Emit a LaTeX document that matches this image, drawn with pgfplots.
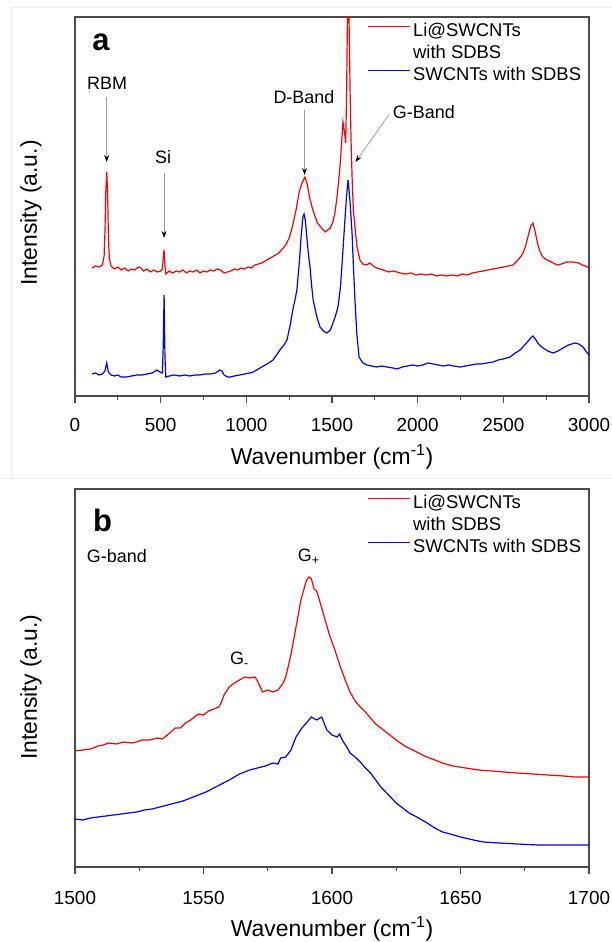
\documentclass[border=0pt]{standalone}
\usepackage{fontspec}
\setmainfont{Liberation Sans}
\usepackage{pgfplots}
\pgfplotsset{compat=1.18}
\usetikzlibrary{arrows.meta}

\tikzset{
  annot/.style={font=\fontsize{18}{21}\selectfont},
  arr/.style={gray!75, line width=0.8bp, -{Stealth[length=7bp,width=5bp,color=black]}},
}
\pgfplotsset{
  spec/.style={
    scale only axis, width=514bp,
    ymin=0,
    axis line style={black!70, line width=1.5bp},
    ytick=\empty,
    xtick pos=left,
    tick align=outside,
    major tick length=7bp, minor tick length=4bp,
    every tick/.style={black!70, line width=1.1bp},
    minor x tick num=1,
    /pgf/number format/assume math mode=true,
    /pgf/number format/1000 sep={},
    label style={font=\fontsize{23}{27}\selectfont},
    xlabel={Wavenumber (cm\textsuperscript{-1})},
    ylabel={Intensity (a.u.)},
    legend style={anchor=north west, draw=none, fill=none, inner sep=0pt, outer sep=0pt,
      row sep=0pt, column sep=3bp, font=\fontsize{18.5}{22}\selectfont,
      nodes={inner sep=0pt, text height=15bp, text depth=7.2bp}},
    legend cell align=left,
    legend image code/.code={\draw[#1] (0bp,6.5bp) -- (42bp,6.5bp);},
    every axis plot/.append style={line width=1.2bp},
  },
}

\begin{document}
\begin{tikzpicture}
\path[use as bounding box] (0,0) rectangle (612bp,942bp);
\draw[gray!15, line width=1bp] (11bp,463bp) -- (11bp,934bp) -- (612bp,934bp);
\draw[gray!15, line width=1bp] (0bp,463bp) -- (612bp,463bp);

% ---------------- panel a ----------------
\begin{axis}[spec, at={(75bp,546bp)}, anchor=south west, height=379bp,
  xmin=0, xmax=3000, ymax=379,
  xtick={0,500,1000,1500,2000,2500,3000},
  xticklabel style={font=\fontsize{19}{22}\selectfont, anchor=base, yshift=-28.5bp},
  xlabel style={at={(axis description cs:0.5,-0.182)}, anchor=base},
  ylabel style={at={(axis description cs:-0.0856,0.483)}, anchor=center},
  legend style={at={(axis description cs:0.568,0.988)}},
]
\addplot[red] coordinates {
(100,128)(120,130)(140,129)(160,131)(170,140)(175,165)(180,205)(185,224)(190,205)(195,160)
(200,138)(210,130)(230,127)(250,129)(270,126)(290,128)(310,125)(330,127)(350,126)(370,129)
(385,128)(400,125)(420,127)(440,124)(460,126)(480,124)(500,125)(510,127)(515,138)(520,146)
(525,130)(530,122)(550,125)(570,123)(590,125)(610,124)(630,126)(650,123)(670,125)(690,124)
(710,126)(730,123)(750,125)(770,124)(790,126)(810,125)(830,127)(850,126)(870,123)(890,124)
(910,125)(930,127)(950,126)(970,128)(990,127)(1010,129)(1030,128)(1050,131)(1070,132)(1090,133)
(1110,135)(1130,137)(1150,139)(1170,141)(1190,143)(1210,147)(1230,151)(1250,158)(1270,170)(1290,186)
(1310,205)(1325,213)(1342,219)(1355,212)(1370,198)(1385,188)(1400,180)(1415,173)(1430,170)(1445,167)
(1460,164)(1475,166)(1490,168)(1505,174)(1517,183)(1530,200)(1545,226)(1555,250)(1564,274)(1572,265)
(1580,253)(1585,300)(1589,360)(1593,420)(1597,400)(1601,360)(1606,300)(1612,250)(1618,215)(1625,185)
(1634,169)(1645,150)(1663,136)(1680,132)(1700,131)(1722,133)(1740,130)(1760,128)(1780,127)(1800,126)
(1830,124)(1860,125)(1897,123)(1930,122)(1960,123)(1990,121)(2020,122)(2050,121)(2080,122)(2110,120)
(2140,121)(2170,120)(2200,121)(2230,120)(2260,122)(2290,121)(2320,123)(2350,124)(2380,125)(2410,126)
(2440,127)(2470,128)(2500,129)(2530,130)(2557,131)(2580,135)(2600,139)(2615,143)(2630,150)(2645,160)
(2660,170)(2673,173)(2685,165)(2700,152)(2715,144)(2730,139)(2755,136)(2780,134)(2813,131)(2840,132)
(2870,134)(2907,134)(2940,133)(2960,131)(2980,130)(3000,128)
};
\addlegendentry{Li@SWCNTs}
\addlegendimage{empty legend}
\addlegendentry{with SDBS}
\addplot[blue] coordinates {
(100,22)(120,23)(140,21)(160,22)(175,25)(185,33)(195,24)(210,21)(230,20)(250,21)
(270,19)(303,19)(330,20)(360,21)(390,21)(420,22)(450,23)(478,26)(495,24)(510,23)
(515,50)(520,101)(525,40)(530,19)(550,20)(580,21)(610,20)(640,21)(670,20)(700,21)
(730,21)(760,22)(790,22)(820,23)(845,26)(858,25)(870,21)(890,19)(905,19)(930,20)
(960,21)(990,22)(1020,23)(1040,24)(1070,27)(1100,30)(1130,33)(1156,36)(1180,42)(1200,47)
(1220,51)(1237,56)(1255,70)(1270,85)(1285,97)(1295,106)(1310,135)(1320,160)(1330,179)(1337,182)
(1345,175)(1355,155)(1365,138)(1372,129)(1380,112)(1390,96)(1410,80)(1430,69)(1450,65)(1471,63)
(1490,66)(1506,73)(1520,80)(1535,89)(1550,110)(1564,146)(1575,175)(1585,200)(1594,216)(1605,195)
(1617,163)(1625,130)(1634,96)(1645,62)(1658,39)(1680,33)(1704,31)(1730,30)(1760,29)(1790,30)
(1820,29)(1856,28)(1880,27)(1910,29)(1940,30)(1970,31)(2000,30)(2030,31)(2060,33)(2090,32)
(2120,31)(2150,30)(2180,31)(2210,30)(2247,29)(2280,30)(2310,31)(2340,32)(2370,32)(2405,33)
(2440,34)(2470,36)(2500,37)(2539,39)(2570,43)(2597,46)(2620,50)(2640,54)(2660,58)(2673,60)
(2690,56)(2710,51)(2732,48)(2760,45)(2790,43)(2820,45)(2848,48)(2880,51)(2918,53)(2940,52)
(2965,49)(2985,44)(3000,41)
};
\addlegendentry{SWCNTs with SDBS}
\node[font=\fontsize{31}{34}\selectfont\bfseries] at (axis cs:152,354) {a};
\node[annot] at (axis cs:187,313) {RBM};
\draw[arr] (axis cs:185,299) -- (axis cs:185,234);
\node[annot] at (axis cs:514,239) {Si};
\draw[arr] (axis cs:520,223) -- (axis cs:520,158);
\node[annot] at (axis cs:1336,299) {D-Band};
\draw[arr] (axis cs:1340,286) -- (axis cs:1340,221);
\node[annot] at (axis cs:2036,284) {G-Band};
\draw[arr] (axis cs:1831,281) -- (axis cs:1637,234);
\end{axis}

% ---------------- panel b ----------------
\begin{axis}[spec, at={(75bp,75bp)}, anchor=south west, height=378bp,
  xmin=1500, xmax=1700, ymax=378,
  xtick={1500,1550,1600,1650,1700},
  xticklabel style={font=\fontsize{19}{22}\selectfont, anchor=base, yshift=-30bp},
  xlabel style={at={(axis description cs:0.5,-0.185)}, anchor=base},
  ylabel style={at={(axis description cs:-0.0856,0.476)}, anchor=center},
  legend style={at={(axis description cs:0.568,0.988)}},
]
\addplot[red] coordinates {
(1500,116)(1503,117)(1506,118)(1509,121)(1511,122)(1513,124)(1516,123)(1519,125)(1522,124)(1524,125)
(1526,127)(1529,127)(1532,129)(1534,128)(1536,132)(1539,139)(1541,139)(1543,144)(1545,147)(1548,153)
(1550,152)(1552,156)(1554,158)(1556,160)(1557,165)(1558,172)(1560,180)(1562,184)(1564,187)(1566,190)
(1568,189)(1570,190)(1571,186)(1573,175)(1575,177)(1577,175)(1579,177)(1581,184)(1582,190)(1584,212)
(1586,240)(1588,268)(1590,286)(1591,290)(1592,288)(1593,278)(1594,276)(1595,268)(1597,250)(1599,232)
(1601,218)(1603,202)(1605,188)(1607,175)(1609,166)(1611,160)(1613,155)(1615,149)(1617,143)(1620,137)
(1623,131)(1626,125)(1629,120)(1633,115)(1636,111)(1639,108)(1643,104)(1647,101)(1652,99)(1657,97)
(1662,96)(1667,95)(1672,94)(1678,93)(1684,92)(1690,91)(1695,90)(1700,90)
};
\addlegendentry{Li@SWCNTs}
\addlegendimage{empty legend}
\addlegendentry{with SDBS}
\addplot[blue] coordinates {
(1500,48)(1503,47)(1506,49)(1509,50)(1512,51)(1515,52)(1518,53)(1521,54)(1524,55)(1527,57)
(1530,58)(1533,60)(1536,62)(1539,64)(1542,66)(1545,69)(1548,72)(1551,75)(1554,79)(1557,83)
(1560,87)(1562,90)(1564,93)(1566,95)(1568,97)(1571,99)(1574,101)(1577,104)(1579,103)(1580,109)
(1582,110)(1584,117)(1586,130)(1588,138)(1590,144)(1592,150)(1594,147)(1596,150)(1598,137)(1600,132)
(1602,130)(1603,133)(1604,127)(1606,119)(1607,114)(1609,110)(1611,105)(1613,99)(1615,94)(1617,87)
(1619,80)(1622,72)(1625,64)(1628,58)(1630,54)(1633,50)(1637,44)(1640,39)(1643,35)(1646,33)
(1650,30)(1655,27)(1659,25)(1665,24)(1672,23)(1680,22)(1690,22)(1700,22)
};
\addlegendentry{SWCNTs with SDBS}
\node[font=\fontsize{31}{34}\selectfont\bfseries] at (axis cs:1510.7,347) {b};
\node[annot] at (axis cs:1516.3,311) {G-band};
\node[annot] at (axis cs:1591,310) {G\textsubscript{+}};
\node[annot] at (axis cs:1564,207) {G\textsubscript{-}};
\end{axis}
\end{tikzpicture}
\end{document}
